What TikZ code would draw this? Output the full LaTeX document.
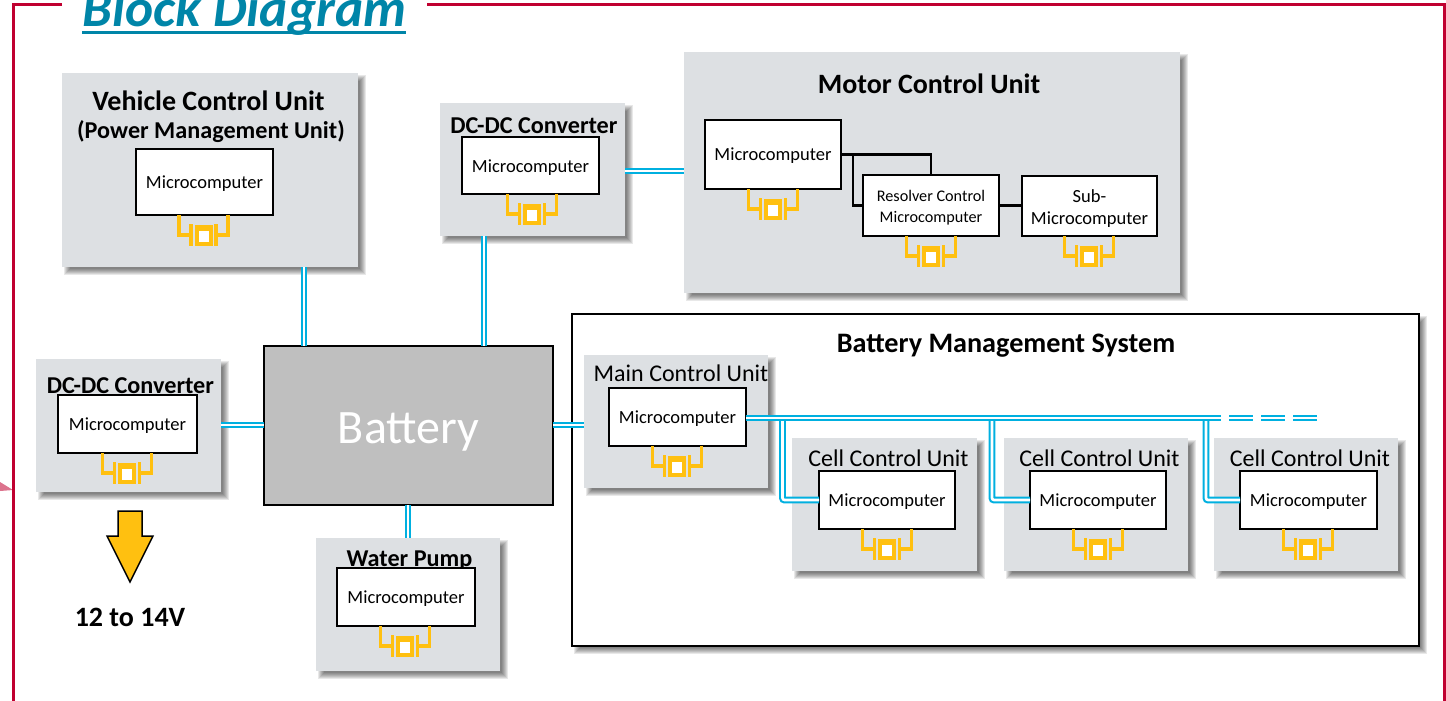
\documentclass[tikz,border=0pt]{standalone}
\usepackage{fontspec}
\setmainfont{Carlito}
\usetikzlibrary{calc}
\definecolor{unitgray}{HTML}{DDE0E3}
\definecolor{battgray}{HTML}{BFBFBF}
\definecolor{xtal}{HTML}{FFC010}
\definecolor{busblue}{HTML}{00B0E0}
\definecolor{framered}{HTML}{C00030}
\definecolor{titleblue}{HTML}{0085A8}
\tikzset{
  unitbox/.style={anchor=north west,fill=unitgray,inner sep=0pt,outer sep=0pt},
  mcbox/.style={anchor=north west,fill=white,draw=black,line width=1.8pt,inner sep=0pt,outer sep=0pt,align=center,font=\fontsize{18.5}{22}\selectfont},
  bus/.style={draw=busblue,line width=2.1pt,double=white,double distance=2.6pt},
  busdash/.style={bus,dash pattern=on 24pt off 8pt},
  wire/.style={draw=black,line width=2.2pt},
  head/.style={font=\bfseries\fontsize{24.2}{28}\selectfont,inner sep=0pt},
  plainhead/.style={font=\fontsize{24}{28}\selectfont,inner sep=0pt},
  frameline/.style={draw=framered,line width=3pt},
  xtalline/.style={draw=xtal,line width=3.4pt,line join=miter},
}
\newcommand{\nudge}[2]{\raisebox{-#1pt}[\height][\depth]{#2}}
% shadow and box of a unit: name, x0, y0, x1, y1
\newcommand{\softshade}[4]{%
  \foreach \d in {-3,-2,-1,0,1,2,3}
    \fill[black,opacity=.09] (#1+5-\d,#2+5-\d) rectangle (#3+5+\d,#4+5+\d);}
\newcommand{\unitat}[5]{%
  \softshade{#2}{#3}{#4}{#5}
  \node[unitbox,minimum width=#4pt-#2pt,minimum height=#5pt-#3pt] (#1) at (#2,#3) {};}
\newcommand{\mcat}[6]{%
  \node[mcbox,minimum width=#4pt-#2pt,minimum height=#5pt-#3pt] (#1) at (#2,#3) {\nudge{2}{#6}};}
% crystal: centre x, top y
\newcommand{\xtalat}[2]{%
  \begin{scope}[shift={(#1,#2)}]
    \draw[xtalline] (-24.5,-1) -- (-24.5,19) -- (-13,19);
    \draw[xtalline] (24.5,-1) -- (24.5,19) -- (13,19);
    \draw[xtalline] (-12.5,8) -- (-12.5,30);
    \draw[xtalline] (12.5,8) -- (12.5,30);
    \fill[xtal] (-9,9) rectangle (9,29.5);
    \fill[white] (-5,14.5) rectangle (5,25.5);
  \end{scope}}
\begin{document}
\begin{tikzpicture}[x=1pt,y=-1pt]
\useasboundingbox (0,0) rectangle (1446,701);
\clip (0,0) rectangle (1446,701);
% frame
\coordinate (fa) at (62,5);
\coordinate (fb) at (13,5);
\coordinate (fc) at (13,701);
\coordinate (fd) at (427,5);
\coordinate (fe) at (1444,5);
\coordinate (ff) at (1444,701);
\fill[framered!55] (0,482) -- (13,490) -- (0,491) -- cycle;
\draw[frameline] (fa) -- (fb) -- (fc);
\draw[frameline] (fd) -- (fe) -- (ff);
% title
\node[anchor=base west,inner sep=0pt,text=titleblue,font=\bfseries\itshape\fontsize{53.4}{60}\selectfont] (title) at (82,26.5) {Block Diagram};
\draw[titleblue,line width=2.4pt] ([yshift=-6pt]title.base west) -- ([yshift=-6pt]title.base east);

% Battery Management System frame
\softshade{572}{314}{1419}{646}
\node[anchor=north west,fill=white,draw=black,line width=1.8pt,inner sep=0pt,outer sep=0pt,minimum width=847pt,minimum height=332pt] (bms) at (572,314) {};
\node[head,font=\bfseries\fontsize{28.2}{32}\selectfont] (bmst) at (1006,346) {Battery Management System};

% units
\unitat{vcu}{62}{73}{358}{267}
\unitat{dca}{440}{103}{625}{236}
\unitat{mcu}{684}{52}{1180}{293}
\unitat{dcb}{36}{359}{221}{492}
\unitat{wp}{316}{538}{500}{671}
\unitat{main}{584}{355}{768}{488}
\unitat{cella}{792}{438}{977}{571}
\unitat{cellb}{1004}{438}{1188}{571}
\unitat{cellc}{1214}{438}{1398}{571}
\node[anchor=north west,fill=battgray,draw=black,line width=1.8pt,inner sep=0pt,outer sep=0pt,minimum width=289pt,minimum height=159pt,text=white,font=\fontsize{48}{54}\selectfont] (batt) at (264,346) {\nudge{6}{Battery}};

% unit titles
\node[head,font=\bfseries\fontsize{28}{32}\selectfont] (vcut) at (208.5,101) {Vehicle Control Unit};
\node[head] (vcus) at (211,132) {(Power Management Unit)};
\node[head] (dcat) at (534,126) {DC-DC Converter};
\node[head,font=\bfseries\fontsize{28}{32}\selectfont] (mcut) at (929,83.5) {Motor Control Unit};
\node[head] (dcbt) at (130.5,386) {DC-DC Converter};
\node[head] (wpt) at (409.5,561) {Water Pump};
\node[plainhead] (maint) at (681,373) {Main Control Unit};
\node[plainhead] (cellat) at (888.5,458) {Cell Control Unit};
\node[plainhead] (cellbt) at (1099.5,458) {Cell Control Unit};
\node[plainhead] (cellct) at (1310,458) {Cell Control Unit};
\node[head,font=\bfseries\fontsize{28}{32}\selectfont] (volt) at (130,617) {12 to 14V};

% microcomputers
\mcat{mvcu}{136}{149}{273}{215}{Microcomputer}
\mcat{mdca}{462}{137}{599}{194}{Microcomputer}
\node[mcbox,minimum width=136pt,minimum height=69pt] (mmcu) at (705,120) {\nudge{1.5}{\raisebox{0pt}{Microcomputer}}};
\node[mcbox,minimum width=136pt,minimum height=61pt,font=\fontsize{16.2}{20.5}\selectfont] (mres) at (863,175) {\nudge{2}{Resolver Control}\\\nudge{2}{Microcomputer}};
\node[mcbox,minimum width=135pt,minimum height=60pt,font=\fontsize{18.5}{22.5}\selectfont] (msub) at (1022,176) {\nudge{2.5}{Sub-}\\\nudge{2.5}{Microcomputer}};
\mcat{mdcb}{58}{395}{197}{453}{Microcomputer}
\mcat{mwp}{337}{568}{475}{626}{Microcomputer}
\mcat{mmain}{609}{388}{746}{446}{Microcomputer}
\mcat{mcella}{819}{471}{955}{529}{Microcomputer}
\mcat{mcellb}{1030}{471}{1166}{529}{Microcomputer}
\mcat{mcellc}{1240}{471}{1377}{529}{Microcomputer}

% crystals
\xtalat{203.5}{216}
\xtalat{532}{195}
\xtalat{773}{190}
\xtalat{931}{237}
\xtalat{1089}{237}
\xtalat{127}{454}
\xtalat{405}{627}
\xtalat{677}{447}
\xtalat{887}{530}
\xtalat{1098}{530}
\xtalat{1308}{530}

% black wires
\draw[wire] (mmcu.east) -| (mres.north);
\draw[wire] ([xshift=12pt]mmcu.east) |- (mres.west);
\draw[wire] (mres.east) -- (mres.east -| msub.west);

% buses
\draw[bus] ([xshift=-54pt]vcu.south east) -- ([xshift=-54pt]vcu.south east |- batt.north);
\draw[bus] ([xshift=44pt]dca.south west) -- ([xshift=44pt]dca.south west |- batt.north);
\draw[bus] ([yshift=65pt]dca.south east) -- ([yshift=65pt]dca.south east -| mcu.west);
\draw[bus] ([yshift=-66pt]dcb.north east) -- ([yshift=-66pt]dcb.north east -| batt.west);
\draw[bus] ([yshift=-79pt]batt.north east) -- ([yshift=-79pt]batt.north east -| main.west);
\draw[bus] ([xshift=144pt]batt.south west) -- ([xshift=144pt]batt.south west |- wp.north);

% main bus and branches
\coordinate (busend) at (1210,418);
\coordinate (dashend) at (1318,418);
\coordinate (dashstart) at (1197,418);
\draw[bus,rounded corners=2pt] (782.5,418) |- ([yshift=-29pt]mcella.north west);
\draw[bus,rounded corners=2pt] (992,418) |- ([yshift=-29pt]mcellb.north west);
\draw[bus,rounded corners=2pt] (1206,418) |- ([yshift=-29pt]mcellc.north west);
\draw[bus] (mmain.east |- busend) -- (busend);
\draw[busdash] (dashstart) -- (dashend);

% arrow
\coordinate (arrowtop) at (130,511);
\draw[fill=xtal,draw=black,line width=1.5pt,line join=miter] (arrowtop) ++(-12,0) -- ++(24,0) -- ++(0,25) -- ++(11,0) -- (130,582) -- (107,536) -- (118,536) -- cycle;
\end{tikzpicture}
\end{document}
